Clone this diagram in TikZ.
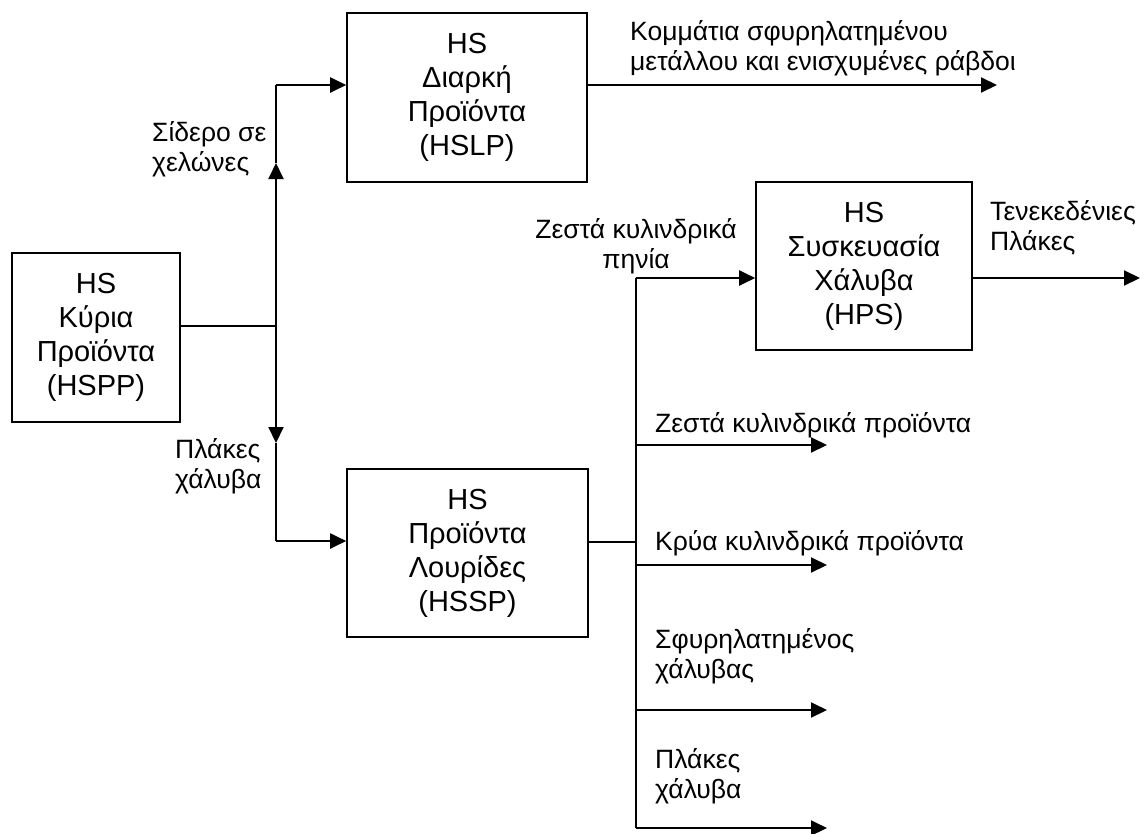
\documentclass[tikz,border=0pt]{standalone}
\usepackage{fontspec}
\setmainfont{Liberation Sans}
\usetikzlibrary{arrows.meta}
\begin{document}
\begin{tikzpicture}[x=1pt,y=-1pt,
  box/.style={draw,line width=1.6pt,align=center,inner sep=0pt,font=\fontsize{29}{34}\selectfont},
  conn/.style={line width=2pt},
  thinconn/.style={line width=1.3pt},
  arr/.style={-{Triangle[length=16pt,width=15pt]}},
  lbl/.style={inner sep=0pt,font=\fontsize{26.5}{30}\selectfont}]
\useasboundingbox (0,0) rectangle (1148,833);
% boxes
\node[box,minimum width=168pt,minimum height=169pt] (HSPP) at (96,337.5) {HS\\Κύρια\\Προϊόντα\\(HSPP)};
\node[box,minimum width=240pt,minimum height=169pt] (HSLP) at (467,97.5) {HS\\Διαρκή\\Προϊόντα\\(HSLP)};
\node[box,minimum width=216pt,minimum height=168pt] (HPS) at (864,266) {HS\\Συσκευασία\\Χάλυβα\\(HPS)};
\node[box,minimum width=241pt,minimum height=168pt] (HSSP) at (467.5,553) {HS\\Προϊόντα\\Λουρίδες\\(HSSP)};
% left trunk
\coordinate (jL) at (276,326);
\coordinate (tL) at (276,85);
\coordinate (bL) at (276,541);
\coordinate (upA) at (276,163);
\coordinate (dnA) at (276,443);
\draw[thinconn] (HSPP.east |- jL) -- (jL);
\draw[conn,arr] (jL) -- (upA);
\draw[conn] (upA) -- (tL);
\draw[conn,arr] (tL) -- (HSLP.west |- tL);
\draw[conn,arr] (jL) -- (dnA);
\draw[conn] (dnA) -- (bL);
\draw[conn,arr] (bL) -- (HSSP.west |- bL);
% HSLP output
\coordinate (oL) at (997,85);
\draw[conn,arr] (HSLP.east |- tL) -- (oL);
% right trunk
\coordinate (tR) at (636,278);
\coordinate (jR) at (636,542);
\coordinate (b1) at (636,445);
\coordinate (b2) at (636,565);
\coordinate (b3) at (636,710);
\coordinate (bR) at (636,828);
\coordinate (e1) at (827,445);
\coordinate (e2) at (827,565);
\coordinate (e3) at (827,710);
\coordinate (e4) at (827,828);
\coordinate (oP) at (1140,278);
\draw[thinconn] (HSSP.east |- jR) -- (jR);
\draw[conn] (tR) -- (bR);
\draw[conn,arr] (tR) -- (HPS.west |- tR);
\draw[conn,arr] (HPS.east |- tR) -- (oP);
\draw[conn,arr] (b1) -- (e1);
\draw[conn,arr] (b2) -- (e2);
\draw[conn,arr] (b3) -- (e3);
\draw[conn,arr] (bR) -- (e4);
% labels (base = baseline of last line)
\node[lbl,anchor=base west,align=left] (l1) at (152,171) {Σίδερο σε\\χελώνες};
\node[lbl,anchor=base west,align=left] (l2) at (175,488) {Πλάκες\\χάλυβα};
\node[lbl,anchor=base west,align=left] (l3) at (630,70) {Κομμάτια σφυρηλατημένου\\μετάλλου και ενισχυμένες ράβδοι};
\node[lbl,anchor=base,align=center] (l4) at (636,268) {Ζεστά κυλινδρικά\\πηνία};
\node[lbl,anchor=base west,align=left] (l5) at (990,250) {Τενεκεδένιες\\Πλάκες};
\node[lbl,anchor=base west] (l6) at (655,432) {Ζεστά κυλινδρικά προϊόντα};
\node[lbl,anchor=base west] (l7) at (655,550) {Κρύα κυλινδρικά προϊόντα};
\node[lbl,anchor=base west,align=left] (l8) at (655,678) {Σφυρηλατημένος\\χάλυβας};
\node[lbl,anchor=base west,align=left] (l9) at (655,798) {Πλάκες\\χάλυβα};
\end{tikzpicture}
\end{document}
